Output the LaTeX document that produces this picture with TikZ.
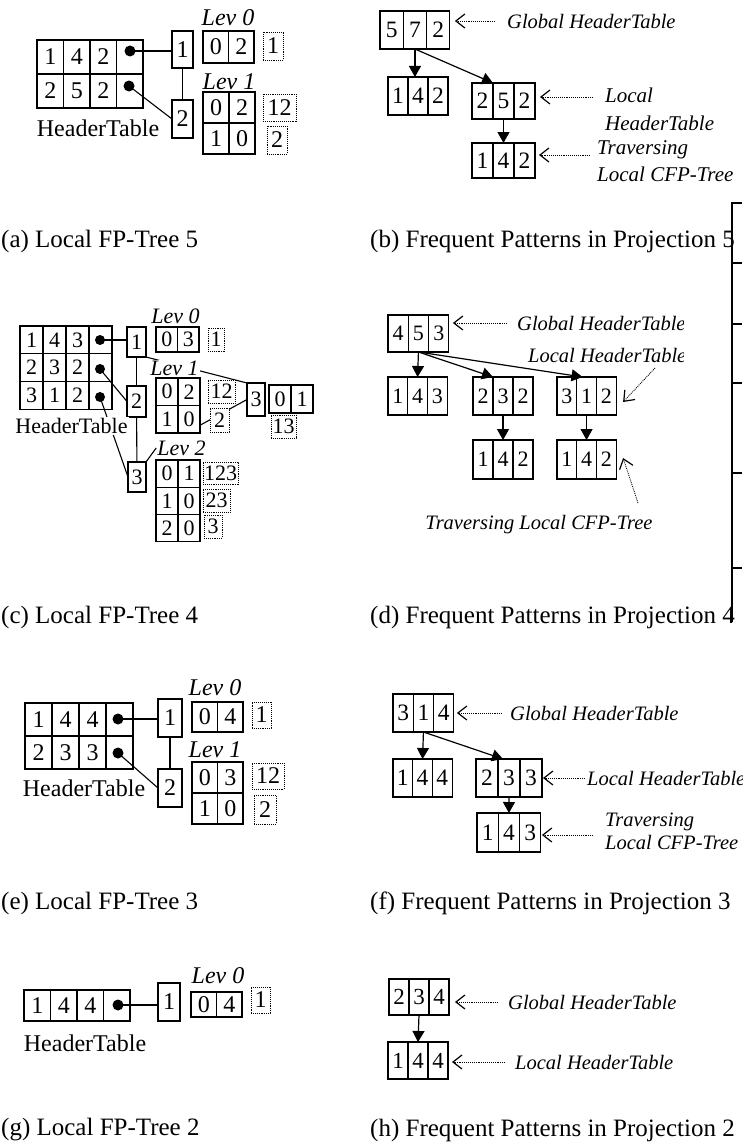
\documentclass[tikz,border=0pt]{standalone}
\usepackage{fontspec}
\setmainfont{Liberation Serif}
\usetikzlibrary{arrows.meta}
\pgfdeclarelayer{bg}
\pgfdeclarelayer{paper}
\pgfsetlayers{paper,bg,main}
\newcommand\fsz[1]{\fontsize{#1}{#1}\selectfont}
% one row of table cells: prefix, left x, top y, cell width, cell height, entries
\newcommand\rowcells[6]{%
  \foreach \v [count=\i] in {#6}{%
    \node[cell,minimum width=#4pt,minimum height=#5pt] (#1\i) at ({#2+(\i-0.5)*#4},{#3+#5/2}) {\v};}}
\tikzset{
  cell/.style={draw,line width=1.1pt,inner sep=0pt,outer sep=0pt},
  dbox/.style={draw,densely dotted,line width=0.9pt,inner sep=0pt,fill=white},
  dotmark/.style={circle,fill=black,inner sep=0pt,minimum size=11pt},
  lab/.style={font=\itshape,inner sep=1pt},
  txt/.style={inner sep=1.5pt},
  link/.style={line width=1.1pt},
  arr/.style={line width=1.2pt,-{Triangle[length=11pt,width=12pt]}},
  ptr/.style={densely dotted,line width=0.9pt,-{Straight Barb[length=9pt,width=14pt,line width=1.2pt]}},
  subcap/.style={anchor=west,inner sep=0pt,font=\fsz{25}},
  note/.style={anchor=west,inner sep=0pt,font=\itshape},
}
\begin{document}
\begin{tikzpicture}[x=1pt,y=-1pt]
\useasboundingbox (0,0) rectangle (742,1148);
\begin{pgfonlayer}{paper}
\fill[white] (0,0) rectangle (742,1148);
\end{pgfonlayer}

% ---------- (a) local FP-tree 5 ----------
\begin{scope}
\fsz{24}
\rowcells{a-ha}{37}{40}{26.5}{34}{1,4,2,{}}
\rowcells{a-hb}{37}{74}{26.5}{34}{2,5,2,{}}
\node[dotmark] (a-d1) at (130,51) {};
\node[dotmark] (a-d2) at (129,86) {};
\node[cell,minimum width=21pt,minimum height=37pt] (a-n1) at (182.5,49.5) {1};
\node[cell,minimum width=21pt,minimum height=38pt] (a-n2) at (182.5,119) {2};
\node[lab] (a-l0) at (228,18) {Lev 0};
\rowcells{a-z}{203}{31}{25.5}{32}{0,2}
\node[dbox,minimum width=20pt,minimum height=28pt] (a-f0) at (273,46) {1};
\node[lab] (a-l1) at (229,82) {Lev 1};
\rowcells{a-oa}{203}{92}{26}{31}{0,2}
\rowcells{a-ob}{203}{123}{26}{31}{1,0}
\node[dbox,minimum width=33pt,minimum height=27pt] (a-f1) at (279.5,107.5) {12};
\node[dbox,minimum width=20pt,minimum height=28pt] (a-f2) at (277,140) {2};
\node[txt] (a-ht) at (98,128) {HeaderTable};
\begin{pgfonlayer}{bg}
\draw[link] (a-d1.center) -- (a-d1 -| a-n1.west);
\draw[link] (a-d2.center) -- (a-n2.west);
\draw[link] (a-n1) -- (a-n2);
\end{pgfonlayer}
\end{scope}

% ---------- (b) patterns in projection 5 ----------
\begin{scope}
\fsz{23.5}
\rowcells{b-g}{380}{11}{23.3}{38}{5,7,2}
\rowcells{b-p}{388}{77}{20}{38}{1,4,2}
\rowcells{b-q}{472}{83}{21}{36}{2,5,2}
\rowcells{b-r}{472}{143}{21}{35}{1,4,2}
\draw[arr] (b-g2.south) -- (b-g2.south |- b-p2.north);
\draw[arr] (b-g2.south) -- (b-q1.north east);
\draw[arr] (b-q2.south) -- (b-r2.north);
\coordinate (b-c1) at (495,21);
\coordinate (b-c2) at (593,97);
\coordinate (b-c3) at (590,155);
\draw[ptr] (b-c1) -- ([xshift=5pt,yshift=9pt]b-g3.east);
\draw[ptr] (b-c2) -- ([xshift=5pt,yshift=4pt]b-q3.east);
\draw[ptr] (b-c3) -- ([xshift=4pt,yshift=5.5pt]b-r3.east);
\node[note,font=\itshape\fontsize{20.5}{28}\selectfont] (b-t1) at (507,21) {Global HeaderTable};
\node[note,align=left,font=\itshape\fontsize{21}{28}\selectfont] (b-t2) at (605,109) {Local\\HeaderTable};
\node[note,align=left,font=\itshape\fontsize{21}{27}\selectfont] (b-t3) at (597,161.5) {Traversing\\Local CFP-Tree};
\end{scope}

% ---------- (c) local FP-tree 4 ----------
\begin{scope}
\fsz{22}
\rowcells{c-ha}{20}{326}{23}{27.7}{1,4,3,{}}
\rowcells{c-hb}{20}{353.7}{23}{27.7}{2,3,2,{}}
\rowcells{c-hc}{20}{381.4}{23}{27.7}{3,1,2,{}}
\node[dotmark,minimum size=10pt] (c-d1) at (100,340) {};
\node[dotmark,minimum size=10pt] (c-d2) at (100,369) {};
\node[dotmark,minimum size=10pt] (c-d3) at (100,397) {};
\node[cell,minimum width=19pt,minimum height=30pt] (c-n1) at (136.5,342) {1};
\node[cell,minimum width=19pt,minimum height=31pt] (c-n2) at (136.5,401.5) {2};
\node[cell,minimum width=18pt,minimum height=30pt] (c-n3) at (137,477) {3};
\node[lab] (c-l0) at (175.5,316) {Lev 0};
\rowcells{c-z}{156}{327}{21.5}{25}{0,3}
\node[dbox,minimum width=16pt,minimum height=23pt] (c-f0) at (216,339.5) {1};
\node[lab,fill=white] (c-l1) at (174.5,368) {Lev 1};
\rowcells{c-oa}{156}{378}{22}{27.5}{0,2}
\rowcells{c-ob}{156}{405.5}{22}{27.5}{1,0}
\node[dbox,minimum width=27pt,minimum height=23pt] (c-f1) at (221.5,391.5) {12};
\node[dbox,minimum width=19pt,minimum height=24pt] (c-f2) at (219.5,420) {2};
\node[cell,minimum width=18pt,minimum height=33pt] (c-m3) at (256,399.5) {3};
\rowcells{c-w}{269}{385}{22}{28}{0,1}
\node[dbox,minimum width=25pt,minimum height=23pt] (c-f3) at (283.5,426.5) {13};
\node[lab] (c-l2) at (181.5,448) {Lev 2};
\rowcells{c-ua}{156}{460}{22}{27.3}{0,1}
\rowcells{c-ub}{156}{487.3}{22}{27.3}{1,0}
\rowcells{c-uc}{156}{514.6}{22}{27.3}{2,0}
\node[dbox,minimum width=35pt,minimum height=22pt] (c-g1) at (220.5,473) {123};
\node[dbox,minimum width=27pt,minimum height=23pt] (c-g2) at (216.5,500.5) {23};
\node[dbox,minimum width=18pt,minimum height=23pt] (c-g3) at (213,526.5) {3};
\node[txt,fill=white] (c-ht) at (71.5,426) {HeaderTable};
\begin{pgfonlayer}{bg}
\draw[link] (c-d1.center) -- (c-d1 -| c-n1.west);
\draw[link] (c-d2.center) -- (c-n2.west);
\draw[link] (c-d3.center) -- (c-n3.west);
\draw[link] (c-n1) -- (c-n2);
\draw[link] (c-n2) -- (c-n3);
\draw[link] (c-n1.south east) -- (c-m3.north west);
\draw[link] ([yshift=-6pt]c-ob2.east) -- (c-m3.west);
\draw[link] (c-n3.north east) -- (c-l2.west);
\end{pgfonlayer}
\end{scope}

% ---------- (d) patterns in projection 4 ----------
\begin{scope}
\fsz{22}
\rowcells{d-g}{388}{315}{20.3}{37}{4,5,3}
\rowcells{d-p}{388}{377}{19.7}{38}{1,4,3}
\rowcells{d-q}{473}{377}{20}{38}{2,3,2}
\rowcells{d-r}{557}{377}{19.7}{38}{3,1,2}
\rowcells{d-s}{473}{440}{20}{39}{1,4,2}
\rowcells{d-t}{557}{440}{19.7}{39}{1,4,2}
\draw[arr] (d-g2.south) -- (d-p2.north);
\draw[arr] (d-g2.south) -- (d-q1.north east);
\draw[arr] (d-g2.south) -- ([xshift=-4pt]d-r2.north);
\draw[arr] (d-q2.south) -- (d-s2.north);
\draw[arr] (d-r2.south) -- (d-t2.north);
\coordinate (d-c1) at (507,323);
\coordinate (d-c2) at (655,368);
\coordinate (d-c3) at (638,503);
\draw[ptr] (d-c1) -- ([xshift=4pt,yshift=10.5pt]d-g3.east);
\draw[ptr] (d-c2) -- ([xshift=7pt,yshift=-6pt]d-r3.east);
\draw[ptr] (d-c3) -- ([xshift=7pt,yshift=1.5pt]d-t3.east);
\begin{scope}
\clip (500,300) rectangle (683,372);
\node[note,font=\itshape\fontsize{20.5}{23}\selectfont] (d-t1) at (517,323) {Global HeaderTable};
\node[note,font=\itshape\fontsize{20.5}{23}\selectfont] (d-t2) at (528,355) {Local HeaderTable};
\end{scope}
\node[lab,font=\itshape\fontsize{20.5}{23}\selectfont] (d-t3) at (539,525) {Traversing Local CFP-Tree};
\end{scope}

% ---------- (e) local FP-tree 3 ----------
\begin{scope}
\fsz{24}
\rowcells{e-ha}{25}{703}{27}{33}{1,4,4,{}}
\rowcells{e-hb}{25}{736}{27}{33}{2,3,3,{}}
\node[dotmark] (e-d1) at (118,719) {};
\node[dotmark] (e-d2) at (118,753) {};
\node[cell,minimum width=24pt,minimum height=38pt] (e-n1) at (170,718) {1};
\node[cell,minimum width=24pt,minimum height=38pt] (e-n2) at (170,788) {2};
\node[lab] (e-l0) at (215,688) {Lev 0};
\rowcells{e-z}{192}{702}{25.5}{30}{0,4}
\node[dbox,minimum width=19pt,minimum height=26pt] (e-f0) at (261.5,715) {1};
\node[lab] (e-l1) at (215,750) {Lev 1};
\rowcells{e-oa}{192}{762}{25.5}{31}{0,3}
\rowcells{e-ob}{192}{793}{25.5}{31}{1,0}
\node[dbox,minimum width=32pt,minimum height=26pt] (e-f1) at (268,776) {12};
\node[dbox,minimum width=22pt,minimum height=29pt] (e-f2) at (265,809.5) {2};
\node[txt] (e-ht) at (84,788) {HeaderTable};
\begin{pgfonlayer}{bg}
\draw[link] (e-d1.center) -- (e-d1 -| e-n1.west);
\draw[link] (e-d2.center) -- (e-n2.west);
\draw[link] (e-n1) -- (e-n2);
\end{pgfonlayer}
\end{scope}

% ---------- (f) patterns in projection 3 ----------
\begin{scope}
\fsz{23.5}
\rowcells{f-g}{393}{694}{20.3}{38}{3,1,4}
\rowcells{f-p}{393}{759}{19.7}{38}{1,4,4}
\rowcells{f-q}{476}{759}{22}{38}{2,3,3}
\rowcells{f-r}{477}{813}{21.3}{39}{1,4,3}
\draw[arr] (f-g2.south) -- (f-p2.north);
\draw[arr] (f-g2.south) -- ([xshift=-6pt]f-q2.north);
\draw[arr] (f-q2.south) -- (f-r2.north);
\coordinate (f-c1) at (502,713);
\coordinate (f-c2) at (585,778);
\coordinate (f-c3) at (593,835);
\draw[ptr] (f-c1) -- ([xshift=3pt]f-g3.east);
\draw[ptr] (f-c2) -- ([xshift=1pt]f-q3.east);
\draw[ptr] (f-c3) -- ([xshift=1pt,yshift=-2.5pt]f-r3.east);
\node[note,font=\itshape\fontsize{20.5}{23}\selectfont] (f-t1) at (510,713) {Global HeaderTable};
\node[note,font=\itshape\fontsize{20.5}{23}\selectfont] (f-t2) at (587,778) {Local HeaderTable};
\node[note,align=left,font=\itshape\fontsize{20.5}{23}\selectfont] (f-t3) at (605,831.5) {Traversing\\Local CFP-Tree};
\end{scope}

% ---------- (g) local FP-tree 2 ----------
\begin{scope}
\fsz{24}
\rowcells{g-ha}{24}{990}{26.5}{31}{1,4,4,{}}
\node[dotmark] (g-d1) at (118,1005) {};
\node[cell,minimum width=22pt,minimum height=38pt] (g-n1) at (169,1002) {1};
\node[lab] (g-l0) at (218,976) {Lev 0};
\rowcells{g-z}{191}{992}{25.5}{25}{0,4}
\node[dbox,minimum width=19pt,minimum height=26pt] (g-f0) at (260.5,1000) {1};
\node[txt] (g-ht) at (85,1043) {HeaderTable};
\begin{pgfonlayer}{bg}
\draw[link] (g-d1.center) -- (g-d1 -| g-n1.west);
\end{pgfonlayer}
\end{scope}

% ---------- (h) patterns in projection 2 ----------
\begin{scope}
\fsz{23}
\rowcells{h-g}{389}{979}{20}{36}{2,3,4}
\rowcells{h-p}{388}{1042}{20}{37}{1,4,4}
\draw[arr] (h-g2.south) -- (h-p2.north);
\coordinate (h-c1) at (498,1002);
\coordinate (h-c2) at (505,1062);
\draw[ptr] (h-c1) -- ([xshift=6pt,yshift=-5pt]h-g3.east);
\draw[ptr] (h-c2) -- ([xshift=4pt,yshift=-1.5pt]h-p3.east);
\node[note,font=\itshape\fontsize{20.5}{23}\selectfont] (h-t1) at (508,1002) {Global HeaderTable};
\node[note,font=\itshape\fontsize{20.5}{23}\selectfont] (h-t2) at (515,1062) {Local HeaderTable};
\end{scope}

% ---------- sub-captions ----------
\node[subcap] (cap-a) at (1,241) {(a) Local FP-Tree 5};
\node[subcap] (cap-b) at (370,241) {(b) Frequent Patterns in Projection 5};
\node[subcap] (cap-c) at (1,617) {(c) Local FP-Tree 4};
\node[subcap] (cap-d) at (370,617) {(d) Frequent Patterns in Projection 4};
\node[subcap] (cap-e) at (1,903) {(e) Local FP-Tree 3};
\node[subcap] (cap-f) at (370,903) {(f) Frequent Patterns in Projection 3};
\node[subcap] (cap-g) at (1,1130) {(g) Local FP-Tree 2};
\node[subcap] (cap-h) at (370,1130) {(h) Frequent Patterns in Projection 2};

% ---------- table rule fragment on the right edge ----------
\draw[line width=1.3pt] (742,203) -- (732,203) -- (732,622);
\foreach \yy in {263,324,383,473,568} \draw[line width=1.3pt] (732,\yy) -- (742,\yy);
\end{tikzpicture}
\end{document}
